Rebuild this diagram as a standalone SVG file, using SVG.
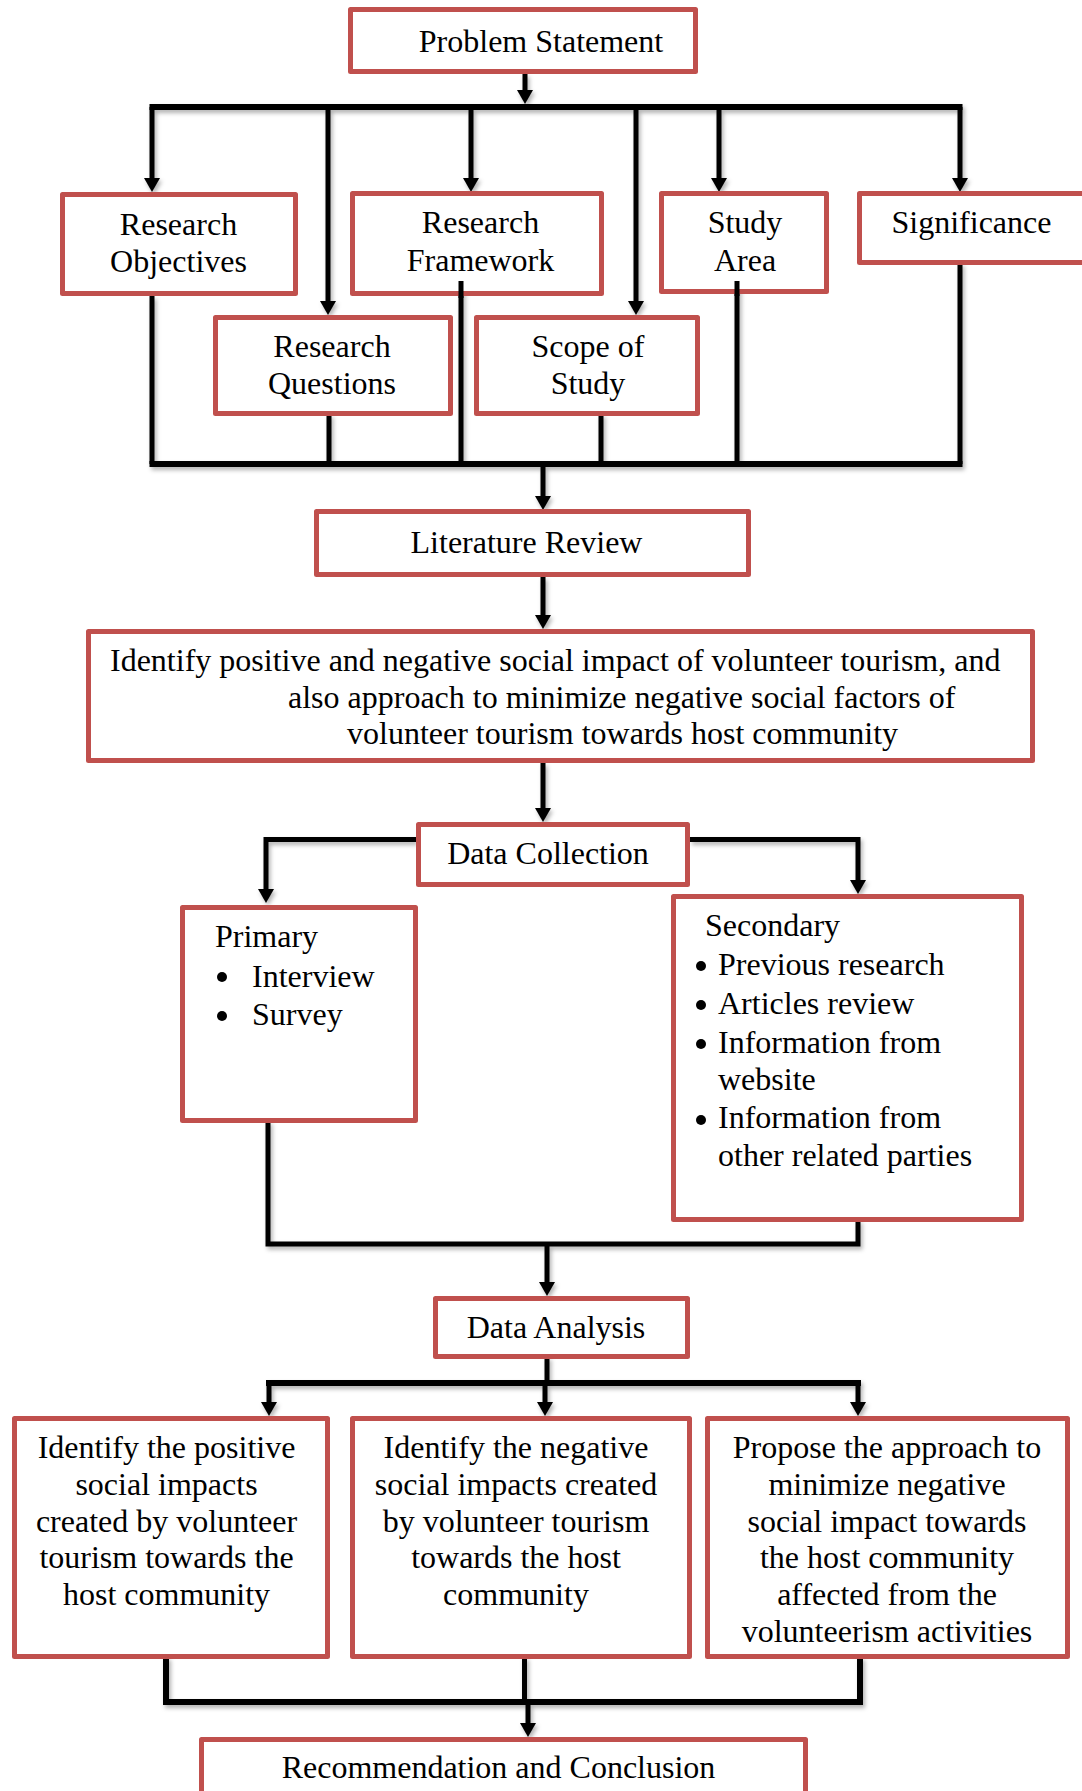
<svg xmlns="http://www.w3.org/2000/svg" width="1082" height="1791" viewBox="0 0 1082 1791">
<style>
.box{fill:#fff;stroke:#C0504D;stroke-width:5;stroke-linejoin:round}
.t{font-family:"Liberation Serif","Times New Roman",serif;font-size:32px;fill:#000}
.c{text-anchor:middle}
.ln{fill:none;stroke:#000;stroke-width:5}
.bus{fill:none;stroke:#000;stroke-width:6}
.bul{fill:#000}
</style>
<defs>
<marker id="arr" markerUnits="userSpaceOnUse" markerWidth="14" markerHeight="16" viewBox="0 -8 14 16" refX="0" refY="0" orient="auto">
<path d="M0,-8 L14,0 L0,8 z" fill="#000"/>
</marker>
<filter id="sh" x="-5%" y="-5%" width="110%" height="110%">
<feDropShadow dx="2" dy="3" stdDeviation="2" flood-color="#000" flood-opacity="0.3"/>
</filter>
</defs>
<rect width="1082" height="1791" fill="#fff"/>

<g id="connectors" filter="url(#sh)">
<line class="ln" x1="525" y1="74" x2="525" y2="90" marker-end="url(#arr)"/>
<line class="bus" x1="149.5" y1="107" x2="962.5" y2="107"/>
<line class="ln" x1="152" y1="107" x2="152" y2="178" marker-end="url(#arr)"/>
<line class="ln" x1="328" y1="107" x2="328" y2="301" marker-end="url(#arr)"/>
<line class="ln" x1="471" y1="107" x2="471" y2="178" marker-end="url(#arr)"/>
<line class="ln" x1="636" y1="107" x2="636" y2="301" marker-end="url(#arr)"/>
<line class="ln" x1="719" y1="107" x2="719" y2="178" marker-end="url(#arr)"/>
<line class="ln" x1="960" y1="107" x2="960" y2="178" marker-end="url(#arr)"/>
<line class="ln" x1="152" y1="296" x2="152" y2="464"/>
<line class="ln" x1="329" y1="414" x2="329" y2="464"/>
<line class="ln" x1="461" y1="281" x2="461" y2="464"/>
<line class="ln" x1="601" y1="414" x2="601" y2="464"/>
<line class="ln" x1="737" y1="281" x2="737" y2="464"/>
<line class="ln" x1="960" y1="263" x2="960" y2="464"/>
<line class="bus" x1="149.5" y1="464" x2="962.5" y2="464"/>
<line class="ln" x1="543" y1="467" x2="543" y2="496" marker-end="url(#arr)"/>
<line class="ln" x1="543" y1="577" x2="543" y2="615" marker-end="url(#arr)"/>
<line class="ln" x1="543" y1="763" x2="543" y2="808" marker-end="url(#arr)"/>
<path class="ln" d="M416,839.5 H266 V889" marker-end="url(#arr)"/>
<path class="ln" d="M690,839.5 H858 V880" marker-end="url(#arr)"/>
<path class="ln" d="M268,1121 V1244 H858 V1220"/>
<line class="ln" x1="547" y1="1244" x2="547" y2="1282" marker-end="url(#arr)"/>
<line class="ln" x1="547" y1="1357" x2="547" y2="1383"/>
<line class="bus" x1="266" y1="1383" x2="861" y2="1383"/>
<line class="ln" x1="269" y1="1383" x2="269" y2="1402" marker-end="url(#arr)"/>
<line class="ln" x1="545" y1="1383" x2="545" y2="1402" marker-end="url(#arr)"/>
<line class="ln" x1="858" y1="1383" x2="858" y2="1402" marker-end="url(#arr)"/>
<path class="bus" d="M166,1657 V1702 H860 V1657"/>
<line class="ln" x1="524.5" y1="1657" x2="524.5" y2="1702"/>
<line class="ln" x1="528" y1="1702" x2="528" y2="1723" marker-end="url(#arr)"/>
</g>

<g id="problem-statement">
<rect class="box" x="350.5" y="9.5" width="345" height="62"/>
<text class="t c" x="541" y="52">Problem Statement</text>
</g>
<g id="research-objectives">
<rect class="box" x="62.5" y="194.5" width="233" height="99"/>
<text class="t c" x="178.5" y="235">Research</text>
<text class="t c" x="178.5" y="272">Objectives</text>
</g>
<g id="research-framework">
<rect class="box" x="352.5" y="193.5" width="249" height="100"/>
<text class="t c" x="480.5" y="233">Research</text>
<text class="t c" x="480.5" y="271">Framework</text>
</g>
<line class="ln" x1="461" y1="281" x2="461" y2="298"/>
<g id="study-area">
<rect class="box" x="661.5" y="193.5" width="165" height="98"/>
<text class="t c" x="745" y="233">Study</text>
<text class="t c" x="745" y="271">Area</text>
</g>
<line class="ln" x1="737" y1="281" x2="737" y2="296"/>
<g id="significance">
<rect class="box" x="859.5" y="193.5" width="240" height="69"/>
<text class="t c" x="971.5" y="233">Significance</text>
</g>
<g id="research-questions">
<rect class="box" x="215.5" y="317.5" width="235" height="96"/>
<text class="t c" x="332" y="357">Research</text>
<text class="t c" x="332" y="394">Questions</text>
</g>
<g id="scope-of-study">
<rect class="box" x="476.5" y="317.5" width="221" height="96"/>
<text class="t c" x="588" y="357">Scope of</text>
<text class="t c" x="588" y="394">Study</text>
</g>
<g id="literature-review">
<rect class="box" x="316.5" y="511.5" width="432" height="63"/>
<text class="t c" x="526.5" y="553">Literature Review</text>
</g>
<g id="identify-impact">
<rect class="box" x="88.5" y="631.5" width="944" height="129"/>
<text class="t" x="110" y="671">Identify positive and negative social impact of volunteer tourism, and</text>
<text class="t" x="288" y="708">also approach to minimize negative social factors of</text>
<text class="t" x="347" y="744">volunteer tourism towards host community</text>
</g>
<g id="data-collection">
<rect class="box" x="418.5" y="824.5" width="269" height="60"/>
<text class="t c" x="548" y="864">Data Collection</text>
</g>
<g id="primary">
<rect class="box" x="182.5" y="907.5" width="233" height="213"/>
<text class="t" x="215" y="947">Primary</text>
<circle class="bul" cx="222" cy="977" r="5"/>
<text class="t" x="252" y="987">Interview</text>
<circle class="bul" cx="222" cy="1016" r="5"/>
<text class="t" x="252" y="1025">Survey</text>
</g>
<g id="secondary">
<rect class="box" x="673.5" y="896.5" width="348" height="323"/>
<text class="t" x="705" y="936">Secondary</text>
<circle class="bul" cx="701" cy="966" r="5"/>
<text class="t" x="718" y="975">Previous research</text>
<circle class="bul" cx="701" cy="1005" r="5"/>
<text class="t" x="718" y="1014">Articles review</text>
<circle class="bul" cx="701" cy="1044" r="5"/>
<text class="t" x="718" y="1053">Information from</text>
<text class="t" x="718" y="1090">website</text>
<circle class="bul" cx="701" cy="1120" r="5"/>
<text class="t" x="718" y="1128">Information from</text>
<text class="t" x="718" y="1166">other related parties</text>
</g>
<g id="data-analysis">
<rect class="box" x="435.5" y="1298.5" width="252" height="58"/>
<text class="t c" x="556" y="1338">Data Analysis</text>
</g>
<g id="positive-impacts">
<rect class="box" x="14.5" y="1418.5" width="313" height="238"/>
<text class="t c" x="166.5" y="1458">Identify the positive</text>
<text class="t c" x="166.5" y="1495">social impacts</text>
<text class="t c" x="166.5" y="1532">created by volunteer</text>
<text class="t c" x="166.5" y="1568">tourism towards the</text>
<text class="t c" x="166.5" y="1605">host community</text>
</g>
<g id="negative-impacts">
<rect class="box" x="352.5" y="1418.5" width="337" height="238"/>
<text class="t c" x="516" y="1458">Identify the negative</text>
<text class="t c" x="516" y="1495">social impacts created</text>
<text class="t c" x="516" y="1532">by volunteer tourism</text>
<text class="t c" x="516" y="1568">towards the host</text>
<text class="t c" x="516" y="1605">community</text>
</g>
<g id="propose-approach">
<rect class="box" x="707.5" y="1418.5" width="360" height="238"/>
<text class="t c" x="887" y="1458">Propose the approach to</text>
<text class="t c" x="887" y="1495">minimize negative</text>
<text class="t c" x="887" y="1532">social impact towards</text>
<text class="t c" x="887" y="1568">the host community</text>
<text class="t c" x="887" y="1605">affected from the</text>
<text class="t c" x="887" y="1642">volunteerism activities</text>
</g>
<g id="recommendation">
<rect class="box" x="201.5" y="1739.5" width="604" height="80"/>
<text class="t c" x="498.5" y="1778">Recommendation and Conclusion</text>
</g>
</svg>
